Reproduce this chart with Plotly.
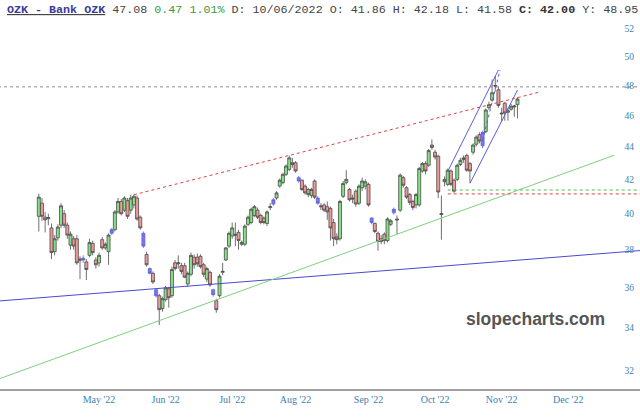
import numpy as np
import pandas as pd
import plotly.graph_objects as go

# ---------------- data ----------------
holidays = ["2022-04-15", "2022-05-30", "2022-06-20", "2022-07-04",
            "2022-09-05", "2022-11-24", "2022-12-26", "2023-01-02"]
dates = pd.bdate_range("2022-04-04", "2022-11-08", freq="C", holidays=holidays)

opens = [39.85, 40.60, 39.80, 39.72, 39.20, 37.90, 38.65, 39.35, 40.00, 39.35,
         38.25, 38.60, 38.60, 37.50, 37.45, 37.35, 37.70, 38.35, 37.45, 37.30,
         38.55, 38.10, 37.90, 38.90, 39.10, 40.10, 40.70, 40.20, 40.75, 40.20,
         40.50, 40.90, 39.80, 38.90, 37.75, 37.00, 36.75, 35.90, 35.60, 34.95,
         35.40, 35.95, 35.60, 37.30, 37.25, 37.15, 37.15, 36.20, 36.70, 37.60,
         37.60, 37.65, 37.20, 36.45, 36.80, 35.90, 35.35, 35.60, 36.80, 37.45,
         38.20, 38.75, 38.85, 38.95, 38.30, 38.30, 39.40, 39.50, 39.90, 40.20,
         39.90, 39.75, 39.45, 40.35, 40.55, 40.90, 41.60, 41.80, 42.30, 42.60,
         43.00, 43.00, 42.10, 41.95, 41.60, 41.40, 41.05, 41.90, 40.90, 40.45,
         40.50, 40.40, 40.30, 39.50, 38.70, 38.60, 41.00, 41.80, 41.40, 40.90,
         41.30, 40.60, 41.50, 41.60, 41.70, 39.75, 39.45, 38.90, 38.60, 38.85,
         38.50, 39.40, 40.05, 39.70, 40.20, 42.10, 41.50, 41.10, 40.70, 40.50,
         40.50, 42.50, 42.95, 42.85, 44.10, 43.65, 43.40, 39.95, 41.86, 41.70,
         42.50, 41.95, 42.00, 42.90, 43.20, 43.45, 42.95, 43.65, 44.15, 44.75,
         44.05, 44.95, 46.50, 47.00, 48.00, 47.70, 46.15, 46.80, 46.20, 46.40,
         46.55, 46.70]
highs = [41.15, 40.90, 40.10, 40.00, 39.45, 38.80, 39.40, 40.60, 40.20, 39.50,
         39.00, 38.75, 38.80, 37.65, 37.70, 37.50, 38.60, 38.50, 37.60, 37.85,
         38.70, 38.40, 38.90, 39.20, 40.20, 40.90, 40.85, 41.00, 40.90, 41.10,
         41.10, 41.05, 39.90, 39.00, 37.90, 37.05, 36.85, 35.95, 35.70, 35.55,
         36.10, 36.05, 37.10, 37.45, 37.70, 37.30, 37.30, 36.85, 37.85, 37.75,
         37.80, 37.75, 37.30, 37.10, 36.90, 35.95, 35.45, 36.70, 37.30, 38.15,
         39.00, 39.50, 39.50, 39.10, 38.50, 39.40, 39.90, 40.35, 40.50, 40.35,
         40.00, 39.85, 40.20, 40.60, 40.90, 41.30, 42.05, 42.40, 42.90, 43.45,
         43.30, 43.10, 42.20, 42.00, 41.70, 41.50, 41.50, 42.00, 41.00, 40.60,
         40.60, 40.70, 40.40, 39.70, 38.90, 40.80, 41.90, 42.55, 41.50, 41.10,
         41.40, 41.70, 42.10, 42.00, 41.80, 39.80, 39.50, 39.00, 38.80, 38.95,
         39.80, 39.70, 40.35, 39.90, 42.35, 42.20, 41.60, 41.20, 40.80, 41.20,
         42.75, 43.05, 43.10, 43.85, 44.45, 43.80, 43.50, 41.05, 42.18, 42.65,
         42.60, 42.05, 42.95, 43.30, 43.45, 43.55, 43.05, 44.20, 44.70, 44.90,
         45.00, 46.45, 46.90, 48.40, 48.65, 47.90, 46.50, 46.90, 46.50, 46.75,
         46.70, 47.20]
lows = [39.00, 39.60, 38.95, 39.35, 37.50, 37.70, 38.50, 39.20, 39.20, 38.60,
        38.00, 38.00, 37.20, 36.45, 37.30, 36.40, 37.60, 37.70, 37.00, 37.10,
        38.00, 38.00, 37.20, 38.80, 39.00, 40.00, 39.90, 40.10, 39.70, 40.00,
        40.30, 39.60, 39.10, 38.10, 37.10, 36.70, 36.20, 35.50, 34.15, 34.80,
        35.30, 35.00, 35.50, 36.90, 37.00, 36.70, 36.50, 36.05, 36.60, 37.00,
        37.10, 37.00, 36.55, 36.30, 36.05, 35.55, 34.75, 35.50, 36.65, 37.40,
        38.10, 38.60, 38.20, 38.00, 38.20, 38.20, 39.30, 39.40, 39.80, 39.70,
        39.40, 39.40, 39.30, 40.20, 40.45, 40.80, 41.50, 41.70, 42.20, 42.50,
        42.70, 42.40, 41.80, 41.30, 41.10, 40.95, 40.90, 40.85, 40.50, 40.20,
        40.10, 39.65, 38.50, 38.20, 38.30, 38.50, 40.90, 41.70, 40.70, 40.60,
        40.40, 40.50, 41.30, 41.40, 40.40, 39.40, 38.90, 37.95, 38.30, 38.30,
        38.40, 39.30, 39.95, 38.85, 40.10, 41.50, 40.85, 40.50, 40.20, 40.30,
        40.40, 42.40, 42.30, 42.75, 43.80, 43.20, 40.90, 38.55, 41.58, 41.60,
        41.60, 41.20, 41.90, 42.80, 43.00, 42.45, 41.80, 43.50, 44.00, 44.20,
        43.90, 44.85, 46.35, 46.90, 47.60, 46.50, 45.60, 45.65, 45.65, 46.30,
        45.90, 45.80]
closes = [40.95, 39.85, 39.65, 39.78, 37.85, 38.60, 39.25, 40.45, 39.35, 38.80,
          38.85, 38.20, 37.30, 37.45, 37.55, 36.95, 38.40, 37.85, 37.20, 37.70,
          38.10, 38.30, 38.80, 39.10, 40.10, 40.70, 40.00, 40.90, 39.85, 40.90,
          41.00, 39.70, 39.20, 38.20, 37.20, 36.75, 36.30, 35.60, 34.90, 35.45,
          36.00, 35.50, 36.95, 37.00, 37.30, 36.85, 36.55, 36.75, 37.70, 37.20,
          37.25, 37.10, 36.70, 37.00, 36.15, 35.65, 34.90, 36.60, 36.85, 38.10,
          38.90, 39.20, 38.80, 38.50, 38.40, 39.30, 39.80, 40.25, 40.40, 39.80,
          39.50, 39.50, 40.10, 40.40, 40.80, 41.20, 41.95, 42.30, 42.80, 43.30,
          42.90, 42.50, 41.90, 41.40, 41.20, 41.10, 41.40, 40.95, 40.60, 40.40,
          40.20, 40.10, 39.20, 38.60, 38.55, 40.70, 41.75, 42.00, 40.80, 40.85,
          40.55, 41.60, 41.90, 41.85, 40.50, 39.50, 39.00, 38.45, 38.45, 38.50,
          39.70, 39.60, 40.25, 39.65, 42.25, 41.65, 40.95, 40.65, 40.35, 41.10,
          42.65, 42.95, 42.50, 43.75, 43.95, 43.35, 41.25, 40.00, 42.00, 42.55,
          41.70, 41.30, 42.85, 43.15, 43.30, 42.55, 42.50, 44.10, 44.60, 44.35,
          44.90, 46.35, 46.70, 47.50, 47.95, 46.65, 46.10, 46.15, 46.30, 46.60,
          46.61, 47.08]
blue_bars = [14, 23, 33, 35, 37, 55, 74, 82, 88, 105, 112, 140]

# trend / level lines (date, price)
long_blue_x = ["2022-03-01", "2023-01-13"]
long_blue_y = [35.14, 38.07]
green_trend_x = ["2022-03-01", "2022-12-21 10:48"]
green_trend_y = [30.84, 43.46]
red_resist_x = ["2022-05-17", "2022-11-17"]
red_resist_y = [41.09, 47.55]
chan_up_x = ["2022-10-07", "2022-10-31"]
chan_up_y = [42.48, 49.06]
chan_low_x = ["2022-10-18", "2022-11-08"]
chan_low_y = [41.76, 47.68]
chan_mid_x = ["2022-10-24", "2022-10-31 12:00"]
chan_mid_y = [44.37, 49.06]
full_x = ["2022-03-01", "2023-01-13"]
gray_level = 47.9
level_x = ["2022-10-07", "2023-01-13"]
green_level = 41.37
red_level = 41.14

month_ticks = ["2022-05-02", "2022-06-01", "2022-07-01", "2022-08-01",
               "2022-09-01", "2022-10-03", "2022-11-01", "2022-12-01"]
month_labels = ["May '22", "Jun '22", "Jul '22", "Aug '22",
                "Sep '22", "Oct '22", "Nov '22", "Dec '22"]
price_ticks = [32, 34, 36, 38, 40, 42, 44, 46, 48, 50, 52]

# ---------------- figure ----------------
o = np.array(opens); h = np.array(highs); l = np.array(lows); c = np.array(closes)
assert len(dates) == len(o)
is_blue = np.zeros(len(o), bool); is_blue[blue_bars] = True
up = (c >= o) & ~is_blue
dn = (c < o) & ~is_blue

fig = go.Figure()


def line(x, y, color, dash="solid", width=1):
    fig.add_trace(go.Scatter(x=x, y=y, mode="lines", hoverinfo="skip",
                             line=dict(color=color, dash=dash, width=width)))


line(full_x, [gray_level, gray_level], "#8c8c8c", "dot")
line(long_blue_x, long_blue_y, "#4a4ad0")
line(green_trend_x, green_trend_y, "#7fd07f")
line(red_resist_x, red_resist_y, "#e04040", "dot")
line(level_x, [green_level, green_level], "#4cc04c", "dot")
line(level_x, [red_level, red_level], "#e04040", "dot")
line(chan_up_x, chan_up_y, "#5c5ce0")
line(chan_low_x, chan_low_y, "#5c5ce0")
line(chan_mid_x, chan_mid_y, "#5c5ce0", "dot")

def candles(mask, fill, edge):
    fig.add_trace(go.Candlestick(
        x=dates[mask], open=o[mask], high=h[mask], low=l[mask], close=c[mask],
        increasing=dict(fillcolor=fill, line=dict(color=edge, width=0.8)),
        decreasing=dict(fillcolor=fill, line=dict(color=edge, width=0.8)),
        hoverinfo="skip", whiskerwidth=0))

candles(up, "#86e086", "#4a4a4a")
candles(dn, "#ee9a9a", "#4a4a4a")
candles(is_blue, "#7878ea", "#6060dd")

title = ('<span style="text-decoration:underline"><b><span style="color:#3a3a9c">'
         'OZK - Bank OZK</span></b></span>'
         '<span style="color:#444"> 47.08 </span>'
         '<span style="color:#3a9a3a">0.47 1.01%</span>'
         '<span style="color:#444"> D: 10/06/2022 O: 41.86 H: 42.18 L: 41.58 </span>'
         '<span style="color:#333"><b>C: 42.00</b></span>'
         '<span style="color:#444"> Y: 48.95</span>')
fig.add_annotation(text=title, xref="paper", yref="paper", x=0.008, y=1.0,
                   xanchor="left", yanchor="top", showarrow=False, yshift=-1,
                   font=dict(family="Liberation Mono", size=11.7, color="#444"))
fig.add_annotation(text="<b>slopecharts.com</b>", xref="paper", yref="paper",
                   x=607 / 640, y=0.18, xanchor="right", yanchor="middle",
                   showarrow=False,
                   font=dict(family="Liberation Sans", size=17.5, color="#555"))

fig.update_layout(
    width=640, height=418, margin=dict(l=0, r=0, t=0, b=29),
    paper_bgcolor="white", plot_bgcolor="white", showlegend=False,
    boxgap=0.05, boxgroupgap=0,
    xaxis=dict(type="date", range=["2022-03-16 18:14", "2023-01-04 15:36"],
               rangebreaks=[dict(bounds=["sat", "mon"]), dict(values=holidays)],
               rangeslider=dict(visible=False),
               tickvals=month_ticks, ticktext=month_labels, ticks="",
               tickfont=dict(family="Liberation Serif", size=10, color="#3d7fae"),
               showgrid=False, zeroline=False, showline=True,
               linecolor="#a0a0a0", linewidth=2),
    yaxis=dict(type="log", range=[np.log10(31.18), np.log10(54.19)], side="right",
               tickvals=price_ticks, ticktext=[str(v) for v in price_ticks],
               ticklabelposition="inside", ticks="", ticklabelstandoff=3,
               tickfont=dict(family="Liberation Serif", size=9.5, color="#3d7fae"),
               showgrid=False, zeroline=False, showline=False),
)

fig.write_html("out.html")
